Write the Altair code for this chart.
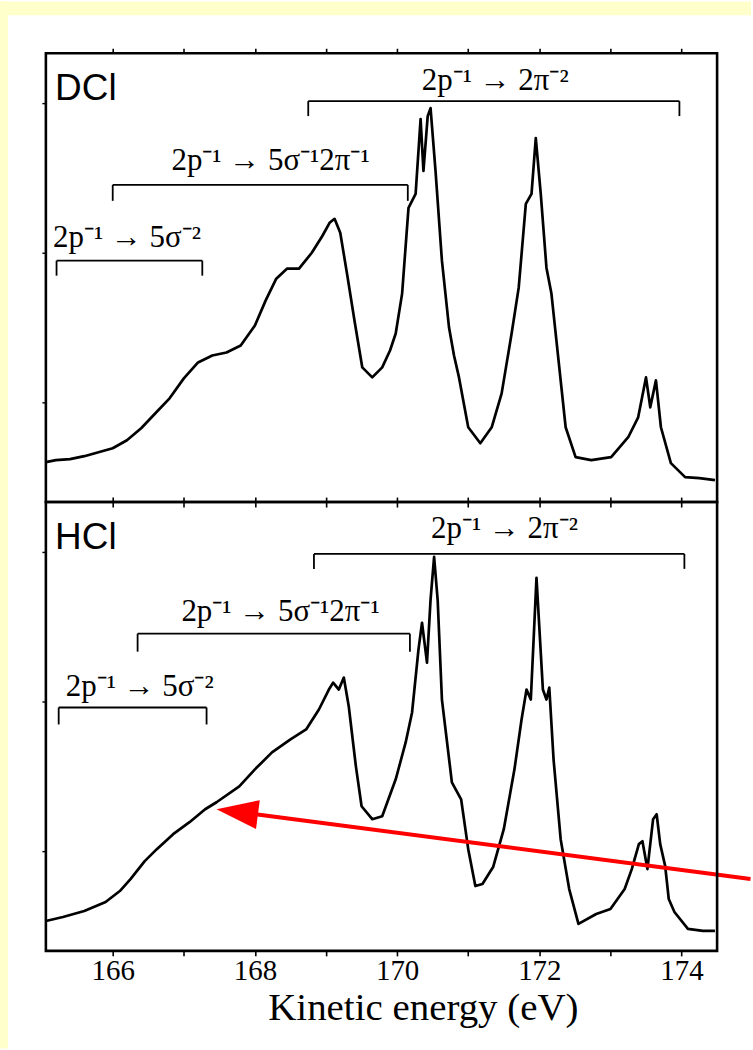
import altair as alt
import pandas as pd

# ---------------- data ----------------
dcl_energy = [165.06, 165.2, 165.4, 165.6, 165.8, 166.0, 166.2, 166.4, 166.6, 166.8,
              167.0, 167.2, 167.4, 167.6, 167.8, 168.0, 168.15, 168.3, 168.45, 168.62,
              168.8, 168.95, 169.05, 169.12, 169.2, 169.3, 169.4, 169.51, 169.65, 169.79,
              169.9, 169.98, 170.07, 170.16, 170.26, 170.33, 170.37, 170.43, 170.47, 170.54,
              170.63, 170.73, 170.8, 170.87, 171.0, 171.17, 171.33, 171.47, 171.61, 171.71,
              171.81, 171.89, 171.95, 172.02, 172.1, 172.17, 172.27, 172.37, 172.51, 172.73,
              173.01, 173.25, 173.39, 173.5, 173.56, 173.64, 173.71, 173.85, 174.05, 174.25,
              174.47]
dcl_intensity = [40, 42, 43, 46, 50, 54, 62, 74, 89, 104,
                 124, 140, 147, 150, 157, 177, 202, 224, 234, 234,
                 250, 267, 280, 284, 270, 227, 182, 135, 125, 135,
                 152, 169, 209, 295, 309, 384, 332, 387, 395, 332,
                 242, 175, 147, 125, 75, 59, 75, 109, 169, 215,
                 299, 309, 365, 309, 235, 209, 142, 75, 45, 42,
                 45, 65, 85, 125, 95, 122, 75, 39, 25, 24,
                 22]

hcl_energy = [165.06, 165.3, 165.6, 165.9, 166.1, 166.25, 166.45, 166.62, 166.85, 167.08,
              167.3, 167.46, 167.78, 168.0, 168.24, 168.5, 168.72, 168.9, 169.04, 169.1,
              169.18, 169.25, 169.32, 169.42, 169.5, 169.65, 169.79, 169.98, 170.12, 170.21,
              170.3, 170.35, 170.42, 170.47, 170.52, 170.57, 170.63, 170.77, 170.9, 171.0,
              171.1, 171.2, 171.35, 171.5, 171.65, 171.75, 171.82, 171.88, 171.96, 172.05,
              172.1, 172.14, 172.2, 172.3, 172.42, 172.55, 172.8, 173.0, 173.2, 173.3,
              173.4, 173.45, 173.52, 173.6, 173.65, 173.7, 173.77, 173.82, 173.9, 174.09,
              174.3, 174.47]
hcl_intensity = [30, 34, 40, 49, 60, 72, 90, 102, 117, 129,
                 142, 149, 165, 182, 199, 212, 222, 242, 262, 269,
                 262, 274, 245, 185, 145, 132, 135, 172, 209, 239,
                 302, 329, 289, 352, 395, 352, 252, 169, 152, 102,
                 65, 67, 84, 122, 182, 232, 262, 252, 374, 262,
                 252, 264, 192, 112, 62, 27, 37, 42, 62, 82,
                 107, 110, 82, 132, 137, 107, 85, 52, 39, 22,
                 20, 20]

# bracket annotations: label, start, end, level, hang-end level, label level, label centre
dcl_br_text = ["2p\u207b\u00b9 \u2192 2\u03c0\u207b\u00b2",
               "2p\u207b\u00b9 \u2192 5\u03c3\u207b\u00b92\u03c0\u207b\u00b9",
               "2p\u207b\u00b9 \u2192 5\u03c3\u207b\u00b2"]
dcl_br_start = [168.75, 166.0, 165.21]
dcl_br_end = [173.97, 170.15, 167.26]
dcl_br_level = [402, 318, 242]
dcl_br_hang = [387, 302, 227]
dcl_txt_level = [422, 342, 265]
dcl_txt_centre = [171.38, 168.22, 166.2]

hcl_br_text = dcl_br_text
hcl_br_start = [168.83, 166.35, 165.24]
hcl_br_end = [174.04, 170.18, 167.32]
hcl_br_level = [398, 318, 244]
hcl_br_hang = [383, 300, 227]
hcl_txt_level = [423, 340, 265]
hcl_txt_centre = [171.51, 168.36, 166.38]

panel_names = ["DCl", "HCl"]
tick_values = [166, 167, 168, 169, 170, 171, 172, 173, 174]
x_domain = [165.06, 174.5]
y_domain = [0, 450]

# arrow (bottom panel, data units): tail, base of head, tip
arrow_tail = (174.97, 72)
arrow_base = (168.01, 137)
arrow_tip = (167.46, 142)

W, H = 673, 450
SERIF = "Liberation Serif"
SANS = "Liberation Sans"
PAGE_YELLOW = "#ffffcc"


def xs():
    return alt.Scale(domain=x_domain, nice=False, zero=False)


def ys():
    return alt.Scale(domain=y_domain, nice=False, zero=False)


def segments(start, end, level, hang):
    rows = []
    for s, e, l, h in zip(start, end, level, hang):
        rows.append(dict(x0=s, x1=e, y0=l, y1=l))
        rows.append(dict(x0=s, x1=s, y0=l, y1=h))
        rows.append(dict(x0=e, x1=e, y0=l, y1=h))
    return pd.DataFrame(rows)


def panel(energy, intensity, name, br_text, br_start, br_end, br_level, br_hang,
          txt_level, txt_centre, bottom_labels, extra_layers_front, extra_layers_back):
    spec = pd.DataFrame({"energy": energy, "intensity": intensity})
    if bottom_labels:
        bottom_axis = alt.Axis(orient="bottom", values=tick_values, labels=True,
                               labelExpr="datum.value % 2 == 0 ? datum.value : ''",
                               labelFont=SERIF, labelFontSize=29, labelColor="black",
                               labelPadding=1, labelFlush=False,
                               title="Kinetic energy (eV)", titleFont=SERIF,
                               titleFontSize=39, titleFontWeight="normal",
                               titleColor="black", titlePadding=3, titleX=378,
                               tickSize=5, tickWidth=1.6, tickColor="black",
                               domain=False, grid=False, zindex=2)
    else:
        bottom_axis = alt.Axis(orient="bottom", values=tick_values, labels=False,
                               title=None, tickSize=5, tickWidth=1.6, tickColor="black",
                               domain=False, grid=False, zindex=2)
    top_axis = alt.Axis(orient="top", values=tick_values, labels=False, title=None,
                        tickSize=5, tickWidth=1.6, tickColor="black",
                        domain=False, grid=False, zindex=2)
    left_axis = alt.Axis(orient="left", values=[100, 250, 400], labels=False, title=None,
                         tickSize=4, tickWidth=1.4, tickColor="black",
                         domain=False, grid=False, zindex=2)

    line = alt.Chart(spec).mark_line(color="black", strokeWidth=2.7,
                                     strokeJoin="round").encode(
        x=alt.X("energy:Q", scale=xs(), axis=bottom_axis),
        y=alt.Y("intensity:Q", scale=ys(), axis=left_axis),
        order="energy:Q")
    top = alt.Chart(spec).mark_line(opacity=0).encode(
        x=alt.X("energy:Q", scale=xs(), axis=top_axis),
        y=alt.Y("intensity:Q", scale=ys(), axis=None))

    seg = alt.Chart(segments(br_start, br_end, br_level, br_hang)).mark_rule(
        color="black", strokeWidth=1.8).encode(
        x=alt.X("x0:Q", scale=xs(), axis=None), x2="x1:Q",
        y=alt.Y("y0:Q", scale=ys(), axis=None), y2="y1:Q")
    txt = alt.Chart(pd.DataFrame({"t": br_text, "x": txt_centre, "y": txt_level})).mark_text(
        font=SERIF, fontSize=31, color="black", align="center", baseline="middle").encode(
        x=alt.X("x:Q", scale=xs(), axis=None),
        y=alt.Y("y:Q", scale=ys(), axis=None), text="t:N")
    lab = alt.Chart(pd.DataFrame({"t": [name], "x": [165.19], "y": [414]})).mark_text(
        font=SANS, fontSize=37, color="black", align="left", baseline="middle").encode(
        x=alt.X("x:Q", scale=xs(), axis=None),
        y=alt.Y("y:Q", scale=ys(), axis=None), text="t:N")
    frame = alt.Chart(pd.DataFrame({"a": [0]})).mark_rect(
        fill=None, stroke="black", strokeWidth=2.6).encode(
        x=alt.value(0), x2=alt.value(W), y=alt.value(0), y2=alt.value(H))

    layers = extra_layers_back + [line, seg, txt, lab] + extra_layers_front + [frame, top]
    return alt.layer(*layers).resolve_axis(x="independent", y="independent").properties(
        width=W, height=H)


# yellow page margin strips at top and left (page is otherwise white)
strip_top = alt.Chart(pd.DataFrame({"a": [0]})).mark_rect(fill=PAGE_YELLOW, stroke=None).encode(
    x=alt.value(-46), x2=alt.value(707), y=alt.value(-52), y2=alt.value(-38))
strip_left = alt.Chart(pd.DataFrame({"a": [0]})).mark_rect(fill=PAGE_YELLOW, stroke=None).encode(
    x=alt.value(-46), x2=alt.value(-38), y=alt.value(-52), y2=alt.value(998))

arrow_line = alt.Chart(pd.DataFrame({"x0": [arrow_tail[0]], "y0": [arrow_tail[1]],
                                     "x1": [arrow_base[0]], "y1": [arrow_base[1]]})).mark_rule(
    color="#ff0000", strokeWidth=4).encode(
    x=alt.X("x0:Q", scale=xs(), axis=None), x2="x1:Q",
    y=alt.Y("y0:Q", scale=ys(), axis=None), y2="y1:Q")
arrow_head = alt.Chart(pd.DataFrame({"x": [arrow_tip[0]], "y": [arrow_tip[1]]})).mark_point(
    shape="M0,0 L2,-0.7 L2,0.7 Z", size=1750, filled=True, fill="#ff0000",
    stroke=None, opacity=1, angle=7.4).encode(
    x=alt.X("x:Q", scale=xs(), axis=None),
    y=alt.Y("y:Q", scale=ys(), axis=None))

top_panel = panel(dcl_energy, dcl_intensity, panel_names[0], dcl_br_text, dcl_br_start,
                  dcl_br_end, dcl_br_level, dcl_br_hang, dcl_txt_level, dcl_txt_centre,
                  False, [], [strip_top, strip_left])
bottom_panel = panel(hcl_energy, hcl_intensity, panel_names[1], hcl_br_text, hcl_br_start,
                     hcl_br_end, hcl_br_level, hcl_br_hang, hcl_txt_level, hcl_txt_centre,
                     True, [arrow_line, arrow_head], [])

chart = alt.vconcat(top_panel, bottom_panel, spacing=0, bounds="flush").properties(
    padding={"left": 0, "top": 0, "right": 0, "bottom": 0},
    background="white",
).configure_view(stroke=None).configure_axis(zindex=2)

chart.save("out.html", embed_options={"renderer": "svg", "actions": False})
